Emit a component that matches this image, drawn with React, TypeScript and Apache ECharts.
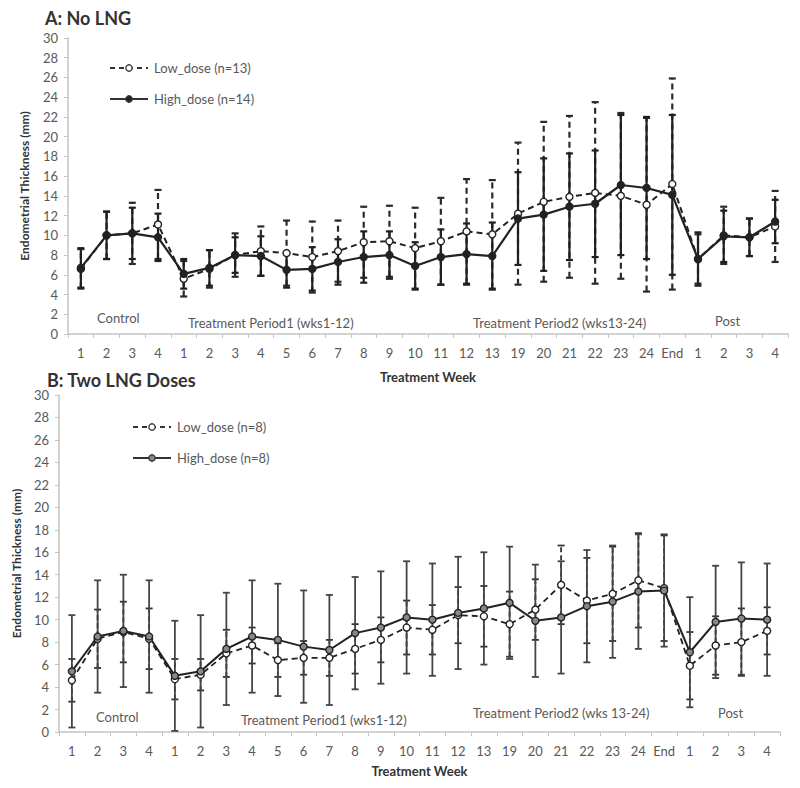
import React, { useEffect, useRef } from 'react';
import * as echarts from 'echarts';

// ---- Data ----
const categories = [
  '1', '2', '3', '4',
  '1', '2', '3', '4', '5', '6', '7', '8', '9', '10', '11', '12', '13',
  '19', '20', '21', '22', '23', '24', 'End',
  '1', '2', '3', '4',
];

const periodLabelsA = ['Control', 'Treatment Period1 (wks1-12)', 'Treatment Period2 (wks13-24)', 'Post'];
const periodLabelsB = ['Control', 'Treatment Period1 (wks1-12)', 'Treatment Period2 (wks 13-24)', 'Post'];

const legendA = ['Low_dose (n=13)', 'High_dose (n=14)'];
const legendB = ['Low_dose (n=8)', 'High_dose (n=8)'];

// Panel A: No LNG
const aLowMean = [6.6, 10.0, 10.2, 11.1, 5.6, 6.6, 8.0, 8.4, 8.2, 7.8, 8.4, 9.3, 9.4, 8.7, 9.4, 10.4, 10.1, 12.2, 13.4, 13.9, 14.3, 14.0, 13.1, 15.2, 7.6, 10.0, 9.8, 10.9];
const aLowSd = [2.0, 2.4, 3.1, 3.5, 1.8, 1.9, 2.2, 2.5, 3.3, 3.6, 3.1, 3.6, 3.6, 4.1, 4.4, 5.3, 5.5, 7.2, 8.1, 8.2, 9.2, 8.4, 8.8, 10.7, 2.5, 2.9, 1.9, 3.6];
const aHighMean = [6.7, 10.0, 10.2, 9.8, 6.1, 6.7, 8.0, 7.9, 6.5, 6.6, 7.3, 7.8, 8.0, 6.9, 7.8, 8.1, 7.9, 11.7, 12.1, 12.9, 13.2, 15.1, 14.8, 14.1, 7.6, 9.9, 9.8, 11.4];
const aHighSd = [2.0, 2.4, 2.6, 2.4, 1.5, 1.8, 1.8, 2.0, 1.8, 2.2, 2.3, 2.6, 2.4, 2.4, 2.8, 3.1, 3.4, 4.7, 5.7, 5.4, 5.4, 7.1, 7.2, 8.1, 2.7, 2.6, 1.9, 2.2];

// Panel B: Two LNG Doses
const bLowMean = [4.6, 8.3, 8.9, 8.3, 4.7, 5.1, 7.0, 7.7, 6.4, 6.6, 6.6, 7.4, 8.2, 9.3, 9.1, 10.4, 10.3, 9.6, 10.9, 13.1, 11.7, 12.3, 13.5, 12.8, 5.9, 7.7, 8.0, 9.0];
const bLowSd = [1.9, 2.6, 2.7, 2.7, 1.8, 1.4, 2.1, 1.6, 1.5, 1.5, 1.6, 2.2, 2.0, 2.4, 2.2, 2.5, 2.7, 2.9, 2.7, 3.5, 3.8, 4.2, 4.2, 4.7, 3.0, 2.6, 3.0, 2.1];
const bHighMean = [5.4, 8.5, 9.0, 8.5, 5.0, 5.4, 7.4, 8.5, 8.2, 7.6, 7.3, 8.8, 9.3, 10.2, 10.0, 10.6, 11.0, 11.5, 9.9, 10.2, 11.2, 11.6, 12.5, 12.6, 7.1, 9.8, 10.1, 10.0];
const bHighSd = [5.0, 5.0, 5.0, 5.0, 4.9, 5.0, 5.0, 5.0, 5.0, 5.0, 4.9, 5.0, 5.0, 5.0, 5.0, 5.0, 5.0, 5.0, 5.0, 5.0, 5.0, 5.0, 5.1, 5.0, 4.9, 5.0, 5.0, 5.0];

const FONT = 'Lato, "Open Sans", sans-serif';
const TEXT = '#595959';
const AXIS = '#c4c4c4';

function errData(mean: number[], sd: number[]) {
  return mean.map((m, i) => [i, m - sd[i], m + sd[i]]);
}

function errRenderer(color: string, width: number, dash: number[] | null, cap: number) {
  return (params: any, api: any) => {
    const x = api.value(0);
    const p1 = api.coord([x, api.value(1)]);
    const p2 = api.coord([x, api.value(2)]);
    const style: any = { stroke: color, lineWidth: width };
    if (dash) style.lineDash = dash;
    return {
      type: 'group',
      children: [
        { type: 'line', shape: { x1: p1[0], y1: p1[1], x2: p2[0], y2: p2[1] }, style },
        { type: 'line', shape: { x1: p1[0] - cap, y1: p1[1], x2: p1[0] + cap, y2: p1[1] }, style: { stroke: color, lineWidth: width } },
        { type: 'line', shape: { x1: p2[0] - cap, y1: p2[1], x2: p2[0] + cap, y2: p2[1] }, style: { stroke: color, lineWidth: width } },
      ],
    };
  };
}

function xAxis(gridIndex: number, nameGap: number) {
  return {
    type: 'category',
    gridIndex,
    data: categories,
    boundaryGap: true,
    name: 'Treatment Week',
    nameLocation: 'middle',
    nameGap,
    nameTextStyle: { fontFamily: FONT, fontWeight: 'bold', fontSize: 13, color: '#333' },
    axisLine: { lineStyle: { color: AXIS, width: 1.5 } },
    axisTick: { show: true, length: 4, lineStyle: { color: AXIS } },
    axisLabel: { interval: 0, margin: 12, fontFamily: FONT, fontSize: 13, color: TEXT },
    splitLine: { show: false },
  };
}

function yAxis(gridIndex: number, nameGap: number) {
  return {
    type: 'value',
    gridIndex,
    min: 0,
    max: 30,
    interval: 2,
    name: 'Endometrial Thickness (mm)',
    nameLocation: 'middle',
    nameGap,
    nameTextStyle: { fontFamily: FONT, fontWeight: 'bold', fontSize: 12, color: '#333' },
    axisLine: { show: true, lineStyle: { color: AXIS, width: 1.5 } },
    axisTick: { show: true, length: 4, lineStyle: { color: AXIS } },
    axisLabel: { margin: 10, fontFamily: FONT, fontSize: 13, color: TEXT },
    splitLine: { show: false },
  };
}

function legendGroup(x: number, y: number, labels: string[], highFill: string) {
  return {
    type: 'group',
    children: [
      { type: 'line', shape: { x1: x, y1: y, x2: x + 38, y2: y }, style: { stroke: '#333', lineWidth: 1.8, lineDash: [5, 4] } },
      { type: 'circle', shape: { cx: x + 19, cy: y, r: 3.2 }, style: { fill: '#fff', stroke: '#333', lineWidth: 1.3 } },
      { type: 'text', x: x + 44, y, style: { text: labels[0], fontFamily: FONT, fontSize: 13, fill: TEXT, verticalAlign: 'middle' } },
      { type: 'line', shape: { x1: x, y1: y + 31, x2: x + 38, y2: y + 31 }, style: { stroke: '#333', lineWidth: 2 } },
      { type: 'circle', shape: { cx: x + 19, cy: y + 31, r: 3.2 }, style: { fill: highFill, stroke: '#333', lineWidth: 1.3 } },
      { type: 'text', x: x + 44, y: y + 31, style: { text: labels[1], fontFamily: FONT, fontSize: 13, fill: TEXT, verticalAlign: 'middle' } },
    ],
  };
}

function txt(x: number, y: number, s: string, size: number, bold = false, color = TEXT) {
  return {
    type: 'text',
    x,
    y,
    style: { text: s, fontFamily: FONT, fontSize: size, fontWeight: bold ? 'bold' : 'normal', fill: color, verticalAlign: 'middle' },
  };
}

export default function App() {
  const ref = useRef<HTMLDivElement>(null);

  useEffect(() => {
    if (!ref.current) return;
    const chart = echarts.init(ref.current, null, { renderer: 'svg' });

    const lineSeries = (name: string, data: number[], idx: number, dashed: boolean, symbolFill: string, lw: number) => ({
      type: 'line',
      name,
      xAxisIndex: idx,
      yAxisIndex: idx,
      data,
      symbol: 'circle',
      symbolSize: 7,
      z: 5,
      lineStyle: { color: '#222', width: lw, type: dashed ? [6, 4] : 'solid' },
      itemStyle: { color: symbolFill, borderColor: '#222', borderWidth: 1.4 },
    });

    const errSeries = (data: number[][], idx: number, color: string, width: number, dash: number[] | null, cap: number) => ({
      type: 'custom',
      xAxisIndex: idx,
      yAxisIndex: idx,
      data,
      encode: { x: 0, y: [1, 2] },
      renderItem: errRenderer(color, width, dash, cap),
      z: 3,
    });

    chart.setOption({
      animation: false,
      backgroundColor: '#fff',
      grid: [
        { left: 68, top: 38, width: 720, height: 296 },
        { left: 59, top: 395, width: 721, height: 337 },
      ],
      xAxis: [xAxis(0, 36), xAxis(1, 32)],
      yAxis: [yAxis(0, 38), yAxis(1, 37)],
      series: [
        errSeries(errData(aLowMean, aLowSd), 0, '#2a2a2a', 2.2, [6, 4], 3.5),
        errSeries(errData(aHighMean, aHighSd), 0, '#1f1f1f', 2.2, null, 3.5),
        lineSeries(legendA[0], aLowMean, 0, true, '#ffffff', 2),
        lineSeries(legendA[1], aHighMean, 0, false, '#222', 2.2),
        errSeries(errData(bLowMean, bLowSd), 1, '#333', 1.8, [5, 3], 3.5),
        errSeries(errData(bHighMean, bHighSd), 1, '#444', 1.8, null, 3.5),
        lineSeries(legendB[0], bLowMean, 1, true, '#ffffff', 1.8),
        lineSeries(legendB[1], bHighMean, 1, false, '#888', 2),
      ],
      graphic: [
        txt(45, 18, 'A: No LNG', 18, true, '#333'),
        txt(47, 380, 'B: Two LNG Doses', 18, true, '#333'),
        legendGroup(110, 68, legendA, '#222'),
        legendGroup(133, 427, legendB, '#888'),
        txt(97, 318, periodLabelsA[0], 13),
        txt(188, 323, periodLabelsA[1], 13),
        txt(473, 323, periodLabelsA[2], 13),
        txt(715, 321, periodLabelsA[3], 13),
        txt(96, 717, periodLabelsB[0], 13),
        txt(241, 720, periodLabelsB[1], 13),
        txt(473, 713, periodLabelsB[2], 13),
        txt(718, 713, periodLabelsB[3], 13),
      ],
    });

    return () => chart.dispose();
  }, []);

  return <div ref={ref} style={{ position: 'fixed', left: 0, top: 0, width: 800, height: 788 }} />;
}
